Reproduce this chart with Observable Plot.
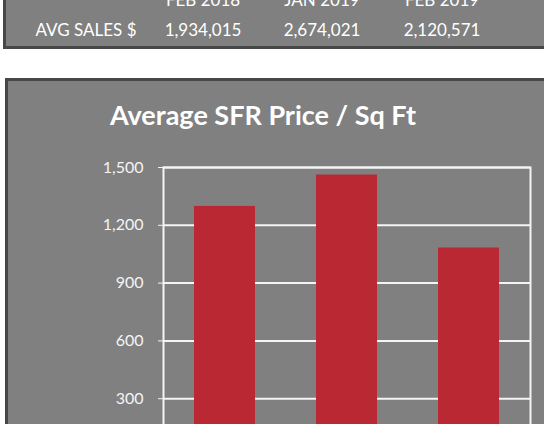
<!DOCTYPE html>
<html><head><meta charset="utf-8">
<script src="https://cdn.jsdelivr.net/npm/d3@7"></script>
<script src="https://cdn.jsdelivr.net/npm/@observablehq/plot@0.6"></script>
<style>
body{margin:0;width:544px;height:424px;overflow:hidden;background:#fff;position:relative;font-family:Lato,"Open Sans",sans-serif;}
#top{position:absolute;left:3px;top:-20px;width:600px;height:63px;background:#808080;border:3px solid #474747;box-sizing:content-box;}
#panel{position:absolute;left:5px;top:78px;width:600px;height:400px;background:#808080;border:3px solid #474747;}
.cell{position:absolute;color:#fff;font-size:17px;white-space:nowrap;line-height:1;transform:translate(-50%,-50%);}
#title{position:absolute;left:263px;top:114px;color:#fff;font-weight:bold;font-size:27px;white-space:nowrap;line-height:1;transform:translate(-50%,-50%);}
#chart{position:absolute;left:0;top:0;}
</style>
</head><body>
<div id="top"></div>
<div id="panel"></div>
<div id="title">Average SFR Price / Sq Ft</div>
<div id="chart"></div>
<script>
const months = ["FEB 2018", "JAN 2019", "FEB 2019"];
const avgSales = ["1,934,015", "2,674,021", "2,120,571"];
const rowLabel = "AVG SALES $";
const pricePerSqFt = [1298, 1461, 1082];
const yTicks = [0, 300, 600, 900, 1200, 1500];

// table cells
const colX = [203, 322, 442];
function cell(text, x, y) {
  const d = document.createElement("div");
  d.className = "cell";
  d.textContent = text;
  d.style.left = x + "px";
  d.style.top = y + "px";
  document.body.appendChild(d);
}
months.forEach((m, i) => cell(m, colX[i], -1));
cell(rowLabel, 86, 29);
avgSales.forEach((v, i) => cell(v, colX[i], 29));

const data = months.map((m, i) => ({month: m, value: pricePerSqFt[i]}));
const chart = Plot.plot({
  width: 544, height: 520,
  marginLeft: 163, marginRight: 14, marginTop: 167, marginBottom: 64,
  style: {background: "transparent", color: "#f4f4f4", fontSize: "16px", fontFamily: "Lato, 'Open Sans', sans-serif"},
  x: {domain: months, paddingInner: 0.5, paddingOuter: 0.25, label: null, axis: null},
  y: {domain: [0, 1500], ticks: yTicks, tickFormat: d3.format(","), label: null, tickSize: 5, tickPadding: 15},
  marks: [
    Plot.ruleY(yTicks, {stroke: "#f4f4f4", strokeWidth: 2}),
    Plot.barY(data, {x: "month", y: "value", fill: "#b92833"}),
    Plot.frame({stroke: "#f4f4f4", strokeWidth: 2})
  ]
});
document.getElementById("chart").appendChild(chart);
</script>
</body></html>
